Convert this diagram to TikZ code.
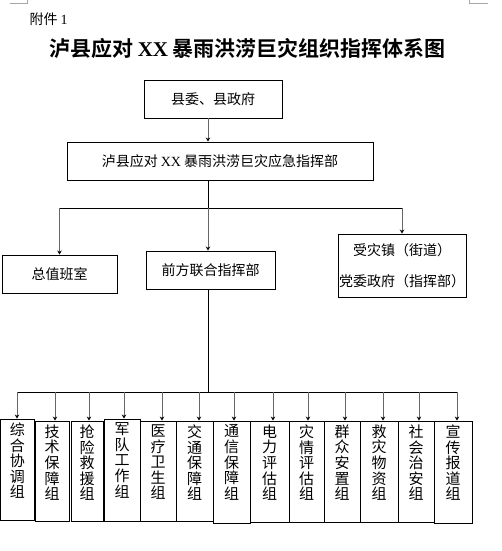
\documentclass[tikz,border=0pt]{standalone}
\usepackage{fontspec}
\setmainfont{Liberation Serif}
\newfontfamily\cjk{Noto Sans CJK SC}[BoldFont={Noto Sans CJK SC Bold}]
\usetikzlibrary{arrows.meta, positioning}

\begin{document}
\begin{tikzpicture}[x=1pt, y=-1pt, line join=miter,
    box/.style={draw, line width=0.9pt, inner sep=0pt,
      font=\cjk\fontsize{14}{16}\selectfont},
    grp/.style={draw, line width=0.9pt, inner sep=0pt},
    vlbl/.style={inner sep=0pt, align=center,
      font=\cjk\fontsize{15}{15.6}\selectfont},
    wire/.style={line width=0.9pt},
    feed/.style={line width=0.9pt, draw=black!60,
      -{Stealth[length=4pt, width=4.5pt, color=black]}},
    crop/.style={line width=0.6pt, draw=black!35}]
  \useasboundingbox (0,0) rectangle (501,551);
  % page corner marks
  \draw[crop] (10,3) -- (27,3) -- (27,0);
  \draw[crop] (469,0) -- (469,3) -- (488,3);
  % heading
  \node[anchor=west, font=\cjk\fontsize{14}{16}\selectfont] (annex) at (26,19)
      {附件 {\rmfamily 1}};
  \node[font=\cjk\bfseries\fontsize{21}{24}\selectfont] (title) at (247.5,48)
      {泸县应对 {\rmfamily XX} 暴雨洪涝巨灾组织指挥体系图};
  % upper levels
  \node[box, minimum width=138pt, minimum height=38pt] (gov) at (213,99)
      {县委、县政府};
  \node[box, minimum width=306pt, minimum height=38pt] (hq) at (220,161)
      {泸县应对 {\rmfamily XX} 暴雨洪涝巨灾应急指挥部};
  \node[box, minimum width=115pt, minimum height=38pt] (duty) at (59.5,274)
      {总值班室};
  \node[box, minimum width=129pt, minimum height=38pt] (front) at (210.5,270)
      {前方联合指挥部};
  \node[box, minimum width=128pt, minimum height=63pt, align=center,
      font=\cjk\fontsize{14}{31}\selectfont] (town) at (402,265.5)
      {受灾镇（街道）\\党委政府（指挥部）};
  \coordinate (hub) at (208,208);
  \coordinate (bus) at (208,392);
  \draw[feed] (hub |- gov.south) -- (hub |- hq.north);
  \draw[wire] (hub |- hq.south) -- (hub);
  \draw[wire] (duty.north |- hub) -- (town.north |- hub);
  \draw[feed] (duty.north |- hub) -- (duty.north);
  \draw[feed] (hub) -- (hub |- front.north);
  \draw[feed] (town.north |- hub) -- (town.north);
  \draw[wire] (hub |- front.south) -- (bus);
  \draw[wire] (17,392) -- (457,392);
  % working groups
  \foreach \i/\l/\r/\t/\b/\ax/\txt in {
      1/0.5/34/419/520/17/{综\\合\\协\\调\\组},
      2/35/69/421/521/55/{技\\术\\保\\障\\组},
      3/71/103/421/521/89/{抢\\险\\救\\援\\组},
      4/104/140/419/521/124/{军\\队\\工\\作\\组},
      5/140/176/421/521/162/{医\\疗\\卫\\生\\组},
      6/176/213/421/521/199/{交\\通\\保\\障\\组},
      7/213/250/421/523/234/{通\\信\\保\\障\\组},
      8/250/289/421/522/273/{电\\力\\评\\估\\组},
      9/289/324/421/522/308/{灾\\情\\评\\估\\组},
      10/324/360/421/522/345/{群\\众\\安\\置\\组},
      11/360/398/421/522/383/{救\\灾\\物\\资\\组},
      12/398/434/421/522/419/{社\\会\\治\\安\\组},
      13/434/472/421/523/457/{宣\\传\\报\\道\\组}} {
    \node[grp, minimum width={(\r-\l)*1pt}, minimum height={(\b-\t)*1pt}]
        (g\i) at ({(\l+\r)/2},{(\t+\b)/2}) {};
    \node[vlbl, anchor=north] (t\i) at ([yshift=-4pt]g\i.north) {\txt};
    \draw[feed] (bus -| \ax,0) -- (\ax,0 |- g\i.north);
  }
\end{tikzpicture}
\end{document}
